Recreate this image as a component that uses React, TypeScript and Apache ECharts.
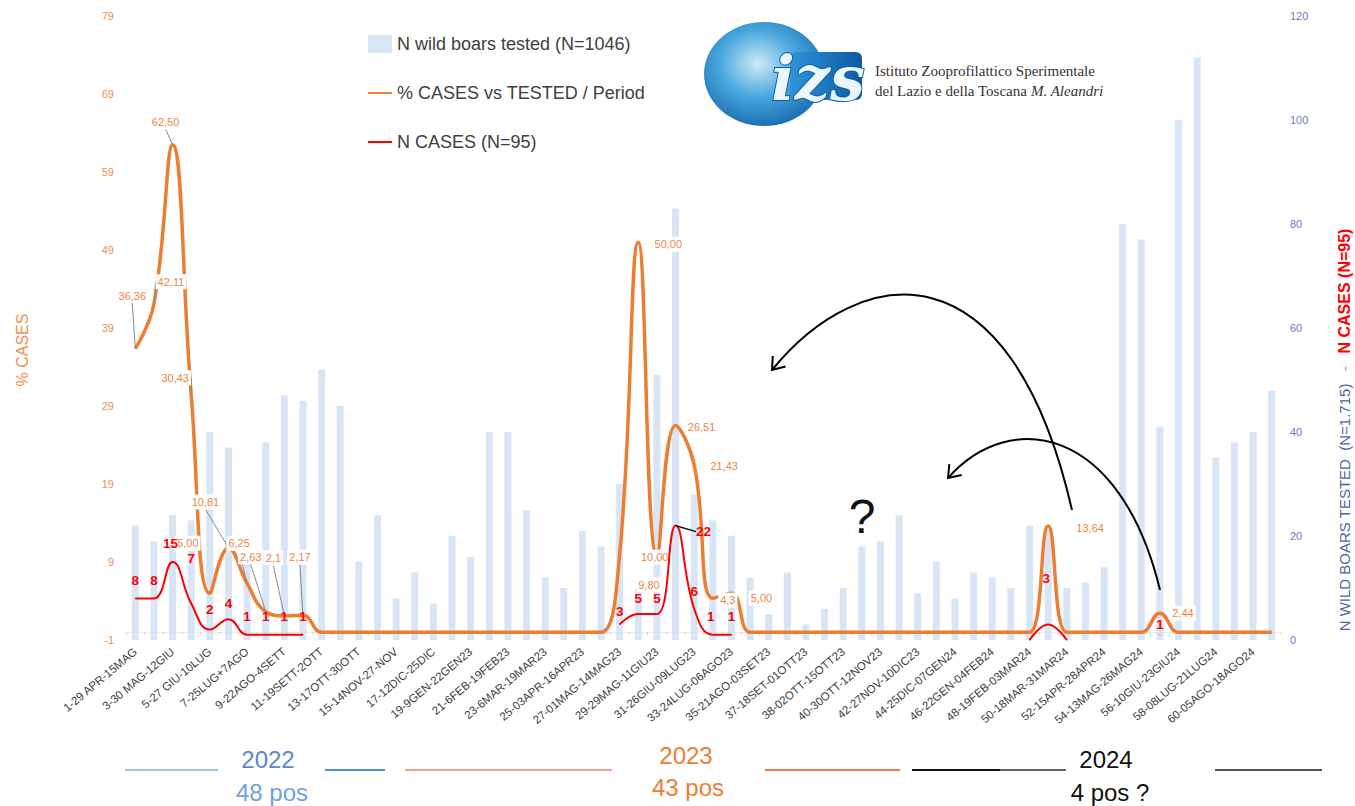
import React, { useEffect, useRef } from "react";
import * as echarts from "echarts";

// ---------- DATA ----------
const periods: string[] = [
  "1-29 APR-15MAG", "2-16MAG-29MAG", "3-30 MAG-12GIU", "4-13GIU-26GIU",
  "5-27 GIU-10LUG", "6-11LUG-24LUG", "7-25LUG+7AGO", "8-8AGO-21AGO",
  "9-22AGO-4SETT", "10-5SETT-18SETT", "11-19SETT-2OTT", "12-3OTT-16OTT",
  "13-17OTT-30OTT", "14-31OTT-13NOV", "15-14NOV-27-NOV", "16-28NOV-11DIC",
  "17-12DIC-25DIC", "18-26DIC-8GEN23", "19-9GEN-22GEN23", "20-23GEN-5FEB23",
  "21-6FEB-19FEB23", "22-20FEB-5MAR23", "23-6MAR-19MAR23", "24-20MAR-2APR23",
  "25-03APR-16APR23", "26-17APR-30APR23", "27-01MAG-14MAG23", "28-15MAG-28MAG23",
  "29-29MAG-11GIU23", "30-12GIU-25GIU23", "31-26GIU-09LUG23", "32-10LUG-23LUG23",
  "33-24LUG-06AGO23", "34-07AGO-20AGO23", "35-21AGO-03SET23", "36-04SET-17SET23",
  "37-18SET-01OTT23", "37bis-18SET-01OTT23", "38-02OTT-15OTT23", "39-16OTT-29OTT23",
  "40-30OTT-12NOV23", "41-13NOV-26NOV23", "42-27NOV-10DIC23", "43-11DIC-24DIC23",
  "44-25DIC-07GEN24", "45-08GEN-21GEN24", "46-22GEN-04FEB24", "47-05FEB-18FEB24",
  "48-19FEB-03MAR24", "49-04MAR-17MAR24", "50-18MAR-31MAR24", "51-01APR-14APR24",
  "52-15APR-28APR24", "53-29APR-12MAG24", "54-13MAG-26MAG24", "55-27MAG-09GIU24",
  "56-10GIU-23GIU24", "57-24GIU-07LUG24", "58-08LUG-21LUG24", "59-22LUG-04AGO24",
  "60-05AGO-18AGO24", "61-19AGO-01SET24",
];

const testedCounts: number[] = [
  22, 19, 24, 23, 40, 37, 16, 38, 47, 46,
  52, 45, 15, 24, 8, 13, 7, 20, 16, 40,
  40, 25, 12, 10, 21, 18, 30, 10, 51, 83,
  28, 23, 20, 12, 5, 13, 3, 6, 10, 18,
  19, 24, 9, 15, 8, 13, 12, 10, 22, 22,
  10, 11, 14, 80, 77, 41, 100, 112, 35, 38,
  40, 48,
];

const pctCases: number[] = [
  36.36, 42.11, 62.5, 30.43, 5.0, 10.81, 6.25, 2.63, 2.1, 2.17,
  0, 0, 0, 0, 0, 0, 0, 0, 0, 0,
  0, 0, 0, 0, 0, 0, 10.0, 50.0, 9.8, 26.51,
  21.43, 4.35, 5.0, 0, 0, 0, 0, 0, 0, 0,
  0, 0, 0, 0, 0, 0, 0, 0, 0, 13.64,
  0, 0, 0, 0, 0, 2.44, 0, 0, 0, 0,
  0, 0,
];

const nCases: (number | null)[] = [
  8, 8, 15, 7, 2, 4, 1, 1, 1, 1,
  null, null, null, null, null, null, null, null, null, null,
  null, null, null, null, null, null, 3, 5, 5, 22,
  6, 1, 1, null, null, null, null, null, null, null,
  null, null, null, null, null, null, null, null, 0, 3,
  0, null, null, null, null, 1, null, null, null, null,
  null, null,
];

const pctTickLabels = ["-1", "9", "19", "29", "39", "49", "59", "69", "79"];
const testedTickLabels = ["0", "20", "40", "60", "80", "100", "120"];

const legendNames = [
  "N wild boars tested (N=1046)",
  "% CASES vs TESTED / Period",
  "N CASES (N=95)",
];

// label text shown on the % line (index -> text)
const pctLabelText: Record<number, string> = {
  0: "36,36", 1: "42,11", 2: "62,50", 3: "30,43", 4: "5,00", 5: "10,81",
  6: "6,25", 7: "2,63", 8: "2,1", 9: "2,17",
  26: "10,00", 27: "50,00", 28: "9,80", 29: "26,51", 30: "21,43",
  31: "4,3", 32: "5,00", 49: "13,64", 55: "2,44",
};

// ---------- LAYOUT (positions/styles) ----------
const pctLabelOffset: Record<number, [number, number]> = {
  0: [-3, -53], 1: [17, -22], 2: [-7, -23], 3: [-16, -17], 4: [-22, -50],
  5: [-23, -46], 6: [-8, -40], 7: [-15, -55], 8: [-11, -58], 9: [-3, -58],
  26: [35, 3], 27: [30, 2], 28: [-8, 29], 29: [26, 2], 30: [30, 1],
  31: [15, 2], 32: [30, 5], 49: [42, 2], 55: [23, 0],
};
const pctLeader = new Set([0, 1, 2, 3, 5, 6, 7, 8, 9]);
const casesLabelOffset: Record<number, [number, number]> = {
  0: [0, -18], 1: [0, -18], 2: [-2, -19], 3: [0, -45], 4: [0, -20], 5: [0, -16],
  6: [0, -18], 7: [0, -18], 8: [0, -18], 9: [0, -18],
  26: [0, -13], 27: [0, -16], 28: [0, -16], 29: [28, 6], 30: [0, -17],
  31: [-2, -18], 32: [0, -18], 49: [-2, -46], 55: [0, -10],
};

const FONT = "'Liberation Sans', Arial, sans-serif";
const ORANGE = "#ed7d31";
const RED = "#ff0000";

function arrowHead(tip: number[], from: number[], len = 14, ang = Math.PI / 5) {
  const a = Math.atan2(tip[1] - from[1], tip[0] - from[0]);
  return [
    [tip[0] - len * Math.cos(a - ang), tip[1] - len * Math.sin(a - ang)],
    [tip[0], tip[1]],
    [tip[0] - len * Math.cos(a + ang), tip[1] - len * Math.sin(a + ang)],
  ];
}

export default function App() {
  const ref = useRef<HTMLDivElement>(null);

  useEffect(() => {
    if (!ref.current) return;
    const chart = echarts.init(ref.current, undefined, { renderer: "svg" });

    const pctData = pctCases.map((v, i) => {
      const txt = pctLabelText[i];
      if (!txt) return { value: v };
      return {
        value: v,
        label: { show: true, formatter: txt },
        labelLine: { show: pctLeader.has(i) },
      };
    });

    const casesData = nCases.map((v, i) => {
      if (v === null || v === 0) return { value: v };
      return {
        value: v,
        label: { show: true, formatter: String(v) },
        labelLine: { show: i === 29 },
      };
    });

    const arrow1 = { x1: 1072, y1: 510, cpx1: 1010, cpy1: 240, cpx2: 860, cpy2: 262, x2: 772, y2: 370 };
    const arrow2 = { x1: 1160, y1: 590, cpx1: 1120, cpy1: 425, cpx2: 1010, cpy2: 408, x2: 948, y2: 478 };

    const yearText = (x: number, y: number, text: string, fill: string) => ({
      type: "text",
      x,
      y,
      style: { text, fontSize: 24, fill, fontFamily: FONT, align: "center", verticalAlign: "middle" },
    });

    const option: any = {
      animation: false,
      backgroundColor: "#ffffff",
      textStyle: { fontFamily: FONT },
      grid: { left: 126, right: 74, top: 16, bottom: 166, containLabel: false, outerBoundsMode: "none" },
      legend: {
        orient: "vertical",
        left: 362,
        top: 30,
        itemGap: 31,
        itemWidth: 24,
        itemHeight: 18,
        textStyle: { fontSize: 18, color: "#404040", fontFamily: FONT },
        data: [
          { name: legendNames[0], icon: "rect" },
          { name: legendNames[1], itemStyle: { opacity: 0 } },
          { name: legendNames[2], itemStyle: { opacity: 0 } },
        ],
      },
      xAxis: {
        type: "category",
        data: periods,
        boundaryGap: true,
        axisLine: { show: true, lineStyle: { color: "#ececec", width: 1 } },
        axisTick: { show: true, interval: 0, length: 3, lineStyle: { color: "#d5d5d5" } },
        axisLabel: {
          interval: 1,
          rotate: 40,
          fontSize: 11.5,
          color: "#404040",
          margin: 10,
          fontFamily: FONT,
        },
      },
      yAxis: [
        {
          type: "value",
          min: -1,
          max: 79,
          interval: 10,
          position: "left",
          axisLine: { show: false },
          axisTick: { show: false },
          splitLine: { show: false },
          axisLabel: {
            fontSize: 11,
            color: "#f0904c",
            margin: 12,
            formatter: (v: number) => {
              const idx = Math.round((v + 1) / 10);
              return pctTickLabels[idx] ?? String(v);
            },
          },
        },
        {
          type: "value",
          min: 0,
          max: 120,
          interval: 20,
          position: "right",
          axisLine: { show: false },
          axisTick: { show: false },
          splitLine: { show: false },
          axisLabel: {
            fontSize: 11,
            color: "#6f7cc2",
            margin: 9,
            formatter: (v: number) => testedTickLabels[Math.round(v / 20)] ?? String(v),
          },
        },
      ],
      series: [
        {
          name: legendNames[0],
          type: "bar",
          yAxisIndex: 1,
          data: testedCounts,
          barWidth: 7,
          itemStyle: { color: "rgba(200, 219, 241, 0.72)" },
          z: 1,
        },
        {
          name: legendNames[1],
          type: "line",
          yAxisIndex: 0,
          data: pctData,
          smooth: 0.45,
          symbol: "circle",
          symbolSize: 1,
          showSymbol: true,
          lineStyle: { color: ORANGE, width: 3.5 },
          itemStyle: { color: ORANGE },
          label: {
            show: false,
            position: "inside",
            fontSize: 11,
            color: "#ee8540",
            backgroundColor: "#ffffff",
            padding: [2, 2],
            fontFamily: FONT,
          },
          labelLine: { show: false, lineStyle: { color: "#8a8a8a", width: 1 } },
          labelLayout: (p: any) => {
            const o = pctLabelOffset[p.dataIndex];
            return o ? { dx: o[0], dy: o[1] } : {};
          },
          z: 3,
        },
        {
          name: legendNames[2],
          type: "line",
          yAxisIndex: 1,
          data: casesData,
          smooth: 0.45,
          connectNulls: false,
          symbol: "circle",
          symbolSize: 1,
          showSymbol: true,
          lineStyle: { color: RED, width: 2 },
          itemStyle: { color: RED },
          label: {
            show: false,
            position: "inside",
            fontSize: 13.5,
            fontWeight: "bold",
            color: RED,
            fontFamily: FONT,
          },
          labelLine: { show: false, lineStyle: { color: "#111111", width: 1.5 } },
          labelLayout: (p: any) => {
            const o = casesLabelOffset[p.dataIndex];
            return o ? { dx: o[0], dy: o[1] } : {};
          },
          z: 4,
        },
      ],
      graphic: [
        // axis titles
        {
          type: "text",
          x: 22,
          y: 350,
          rotation: Math.PI / 2,
          style: {
            text: "% CASES",
            fill: "#f0904c",
            fontSize: 16,
            fontFamily: FONT,
            align: "center",
            verticalAlign: "middle",
          },
        },
        {
          type: "text",
          x: 1344,
          y: 430,
          rotation: Math.PI / 2,
          style: {
            text: "{a|N WILD BOARS TESTED  (N=1.715)}{b|   -   }{c|N CASES (N=95)}",
            align: "center",
            verticalAlign: "middle",
            rich: {
              a: { fill: "#4d63a8", fontSize: 15, fontFamily: FONT },
              b: { fill: "#999999", fontSize: 15, fontFamily: FONT },
              c: { fill: RED, fontSize: 16, fontWeight: "bold", fontFamily: FONT },
            },
          },
        },
        // logo
        {
          type: "ellipse",
          shape: { cx: 764, cy: 74, rx: 60, ry: 52 },
          style: {
            fill: new echarts.graphic.RadialGradient(0.45, 0.4, 0.7, [
              { offset: 0, color: "#cfeaf8" },
              { offset: 0.45, color: "#4aa8dd" },
              { offset: 1, color: "#0d5ea8" },
            ]),
          },
        },
        {
          type: "rect",
          shape: { x: 790, y: 52, width: 72, height: 48, r: 6 },
          style: {
            fill: new echarts.graphic.LinearGradient(0, 0, 1, 0, [
              { offset: 0, color: "#2f93d8" },
              { offset: 1, color: "#0c5aa3" },
            ]),
          },
        },
        {
          type: "text",
          x: 818,
          y: 78,
          style: {
            text: "izs",
            fontSize: 62,
            fontStyle: "italic",
            fontWeight: "bold",
            fontFamily: "'DejaVu Serif', serif",
            fill: "#eaf7fe",
            stroke: "#0d5ea8",
            lineWidth: 2,
            align: "center",
            verticalAlign: "middle",
          },
        },
        {
          type: "text",
          x: 875,
          y: 71,
          style: {
            text: "Istituto Zooprofilattico Sperimentale",
            fontSize: 15,
            fontFamily: "'Liberation Serif', serif",
            fill: "#333333",
            verticalAlign: "middle",
          },
        },
        {
          type: "text",
          x: 875,
          y: 91,
          style: {
            text: "{n|del Lazio e della Toscana }{i|M. Aleandri}",
            verticalAlign: "middle",
            rich: {
              n: { fontSize: 15, fontFamily: "'Liberation Serif', serif", fill: "#333333" },
              i: { fontSize: 15, fontFamily: "'Liberation Serif', serif", fontStyle: "italic", fill: "#333333" },
            },
          },
        },
        // arrows
        { type: "bezierCurve", shape: arrow1, style: { stroke: "#000", lineWidth: 2, fill: null }, z: 10 },
        {
          type: "polyline",
          shape: { points: arrowHead([arrow1.x2, arrow1.y2], [arrow1.cpx2, arrow1.cpy2]) },
          style: { stroke: "#000", lineWidth: 2, fill: null },
          z: 10,
        },
        { type: "bezierCurve", shape: arrow2, style: { stroke: "#000", lineWidth: 2, fill: null }, z: 10 },
        {
          type: "polyline",
          shape: { points: arrowHead([arrow2.x2, arrow2.y2], [arrow2.cpx2, arrow2.cpy2]) },
          style: { stroke: "#000", lineWidth: 2, fill: null },
          z: 10,
        },
        {
          type: "text",
          x: 862,
          y: 516,
          style: { text: "?", fontSize: 48, fontFamily: FONT, fill: "#111111", align: "center", verticalAlign: "middle" },
          z: 10,
        },
        // year annotations
        { type: "line", shape: { x1: 125, y1: 770, x2: 218, y2: 770 }, style: { stroke: "#9dc3e6", lineWidth: 2 } },
        { type: "line", shape: { x1: 325, y1: 770, x2: 385, y2: 770 }, style: { stroke: "#4a90d9", lineWidth: 2 } },
        yearText(268, 759, "2022", "#5a87cf"),
        yearText(272, 792, "48 pos", "#6fa3dc"),
        { type: "line", shape: { x1: 405, y1: 770, x2: 612, y2: 770 }, style: { stroke: "#f6a08e", lineWidth: 2 } },
        { type: "line", shape: { x1: 765, y1: 770, x2: 900, y2: 770 }, style: { stroke: "#f07a45", lineWidth: 2 } },
        yearText(686, 755, "2023", ORANGE),
        yearText(688, 787, "43 pos", ORANGE),
        { type: "line", shape: { x1: 912, y1: 770, x2: 1000, y2: 770 }, style: { stroke: "#111111", lineWidth: 2 } },
        { type: "line", shape: { x1: 1000, y1: 770, x2: 1066, y2: 770 }, style: { stroke: "#666666", lineWidth: 2 } },
        yearText(1106, 759, "2024", "#111111"),
        yearText(1110, 792, "4 pos ?", "#111111"),
        { type: "line", shape: { x1: 1215, y1: 770, x2: 1322, y2: 770 }, style: { stroke: "#555555", lineWidth: 2 } },
      ],
    };

    chart.setOption(option);
    return () => chart.dispose();
  }, []);

  return (
    <div
      ref={ref}
      style={{ position: "fixed", left: 0, top: 0, width: 1355, height: 806, background: "#fff" }}
    />
  );
}
